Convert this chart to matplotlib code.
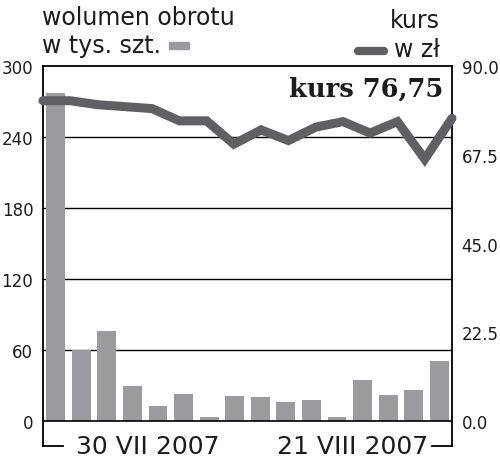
import numpy as np
import matplotlib.pyplot as plt

# wolumen obrotu (tys. szt.)
volume = [277, 60, 76, 30, 13, 23, 3, 21, 20, 16, 18, 3, 35, 22, 26, 51]
# kurs (zl)
price = [81.2, 81.2, 80.2, 79.7, 79.2, 76.1, 76.1, 70.2, 73.8, 71.1,
         74.5, 75.9, 73.0, 75.9, 66.4, 76.75]
vol_ticks = [0, 60, 120, 180, 240, 300]
price_ticks = [0.0, 22.5, 45.0, 67.5, 90.0]
date_labels = ["30 VII 2007", "21 VIII 2007"]
date_pos = [3.6, 11.6]

bar_color = "#9b9b9f"
line_color = "#606064"
txt = "#1c1c1c"

fig = plt.figure(figsize=(5, 4.64), dpi=100)
rect = [0.086, 0.0366, 0.818, 0.819]
ax = fig.add_axes(rect)
idx = np.arange(len(volume))

ax.set_xlim(-0.5, len(volume) - 0.5)
ax.set_ylim(-21.1, 300)
for v in vol_ticks[1:-1]:
    ax.axhline(v, color="black", lw=1.0, zorder=1)
ax.axhline(0, color="black", lw=1.2, zorder=3)
ax.bar(idx, volume, width=0.74, color=bar_color, zorder=2)

ax.set_yticks(vol_ticks)
ax.set_yticklabels([str(v) for v in vol_ticks])
ax.tick_params(axis="y", length=0, pad=7, labelsize=12, colors=txt)
ax.set_xticks([])
for s in ax.spines.values():
    s.set_linewidth(1.3)
    s.set_color("black")
ax.spines["bottom"].set_visible(False)

# bottom bracket: short pieces at both ends only
xt = ax.get_xaxis_transform()
ax.plot([0, 0.05], [0, 0], transform=ax.transAxes, color="black", lw=1.3,
        clip_on=False)
ax.plot([0.952, 1], [0, 0], transform=ax.transAxes, color="black", lw=1.3,
        clip_on=False)

for lab, x in zip(date_labels, date_pos):
    ax.text(x, 0, lab, transform=xt, ha="center", va="center", fontsize=18,
            color=txt, zorder=5)

ax2 = fig.add_axes(rect, frameon=False)
ax2.set_xlim(0, len(price) - 1)
ax2.set_ylim(-6.33, 90)
ax2.plot(np.arange(len(price)), price, color=line_color, lw=6.5,
         solid_capstyle="round", solid_joinstyle="miter", clip_on=False)
ax2.set_xticks([])
ax2.yaxis.tick_right()
ax2.set_yticks(price_ticks)
ax2.set_yticklabels([f"{v:.1f}" for v in price_ticks])
ax2.tick_params(axis="y", length=0, pad=7, labelsize=12, colors=txt)

# legend texts
fig.text(42 / 500, 1 - 25 / 464, "wolumen obrotu", fontsize=17, color=txt,
         ha="left", va="baseline")
fig.text(42 / 500, 1 - 53 / 464, "w tys. szt.", fontsize=17, color=txt,
         ha="left", va="baseline")
fig.patches.append(plt.Rectangle((169 / 500, 1 - 50 / 464), 20 / 500, 7 / 464,
                                 transform=fig.transFigure, color=bar_color))
fig.text(440 / 500, 1 - 28 / 464, "kurs", fontsize=17, color=txt,
         ha="right", va="baseline")
fig.text(440 / 500, 1 - 57 / 464, "w zł", fontsize=17, color=txt,
         ha="right", va="baseline")
fig.add_artist(plt.Line2D([358 / 500, 384 / 500], [1 - 52 / 464, 1 - 52 / 464],
                          transform=fig.transFigure, color=line_color, lw=6,
                          solid_capstyle="round"))
fig.text(443 / 500, 1 - 97 / 464, "kurs 76,75", fontsize=18.5, color=txt,
         family="DejaVu Serif", weight="heavy", ha="right", va="baseline")

fig.savefig("out.png", dpi=100)
